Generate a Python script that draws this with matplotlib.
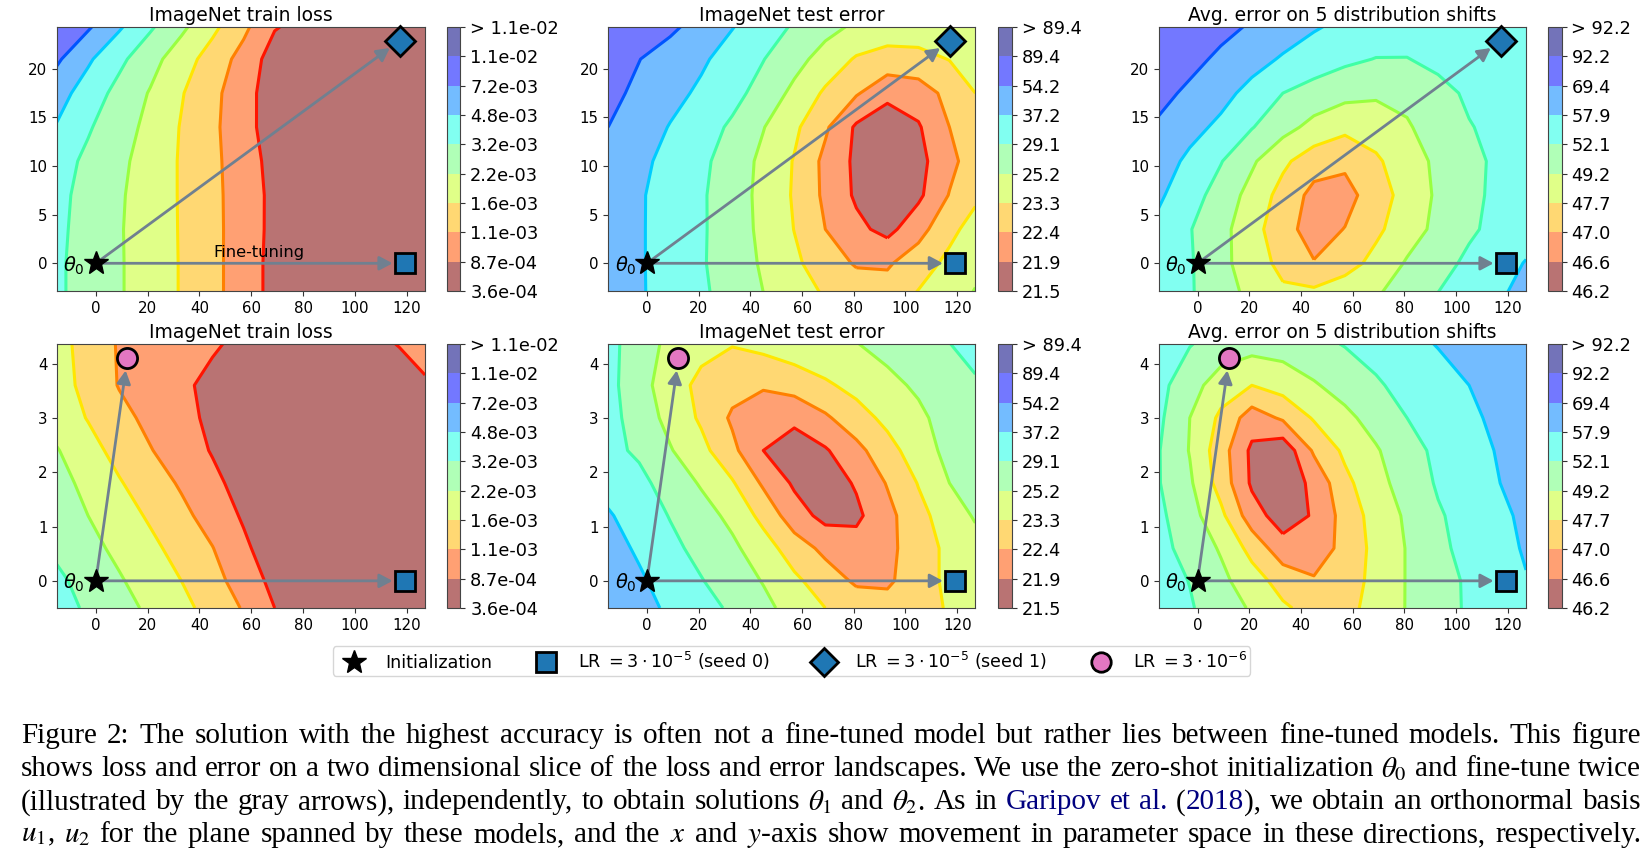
import numpy as np
import matplotlib
matplotlib.use("Agg")
import matplotlib.pyplot as plt
from matplotlib.lines import Line2D

W, H = 1646, 859

# Grid of the loss / error slices
x_grid = [-15, -3, 9, 21, 33, 45, 57, 69, 81, 93, 105, 117, 127]
y_grid_top = [-3, 0, 3.5, 7, 10.5, 14, 17.5, 21, 24.4]
y_grid_bottom = [-0.5, 0, 0.6, 1.2, 1.8, 2.4, 3, 3.6, 4.36]

# Values, on the colour bar's scale (one unit per band)
train_top = [
    [5.15, 4.63, 4.09, 3.52, 2.94, 2.27, 1.51, .69, .55, .4, .3, .25, .2],
    [5.15, 4.63, 4.09, 3.52, 2.94, 2.27, 1.51, .69, .55, .4, .3, .25, .2],
    [5.2, 4.65, 4.08, 3.51, 2.93, 2.26, 1.53, .73, .55, .4, .3, .25, .2],
    [5.25, 4.69, 4.12, 3.52, 2.92, 2.25, 1.52, .74, .55, .4, .3, .25, .2],
    [5.4, 4.8, 4.22, 3.58, 2.91, 2.23, 1.47, .66, .55, .4, .3, .25, .2],
    [5.93, 5.1, 4.43, 3.73, 2.94, 2.2, 1.37, .48, .45, .4, .3, .25, .2],
    [6.4, 5.54, 4.69, 3.93, 3.07, 2.27, 1.38, .47, .45, .4, .3, .25, .2],
    [7.15, 6.15, 5.23, 4.36, 3.46, 2.57, 1.64, .54, .5, .45, .3, .25, .2],
    [7.95, 7.15, 6.15, 5.15, 4.23, 3.25, 2.25, 1.08, .7, .5, .35, .3, .25],
]
test_top = [
    [6.55, 6.1, 5.63, 5.16, 4.6, 4.0, 3.44, 2.9, 2.55, 2.4, 3.05, 3.6, 4.05],
    [6.55, 6.1, 5.6, 5.1, 4.5, 3.88, 3.18, 2.5, 1.9, 1.88, 2.53, 3.25, 3.75],
    [6.55, 6.1, 5.6, 5.12, 4.49, 3.77, 2.98, 2.0, 1.25, .7, 1.64, 2.73, 3.4],
    [6.55, 6.1, 5.62, 5.12, 4.47, 3.73, 2.9, 1.8, .85, .3, .8, 2.05, 2.8],
    [6.7, 6.22, 5.72, 5.21, 4.55, 3.77, 2.94, 1.75, .8, .2, .7, 1.7, 2.55],
    [7.0, 6.5, 5.95, 5.42, 4.85, 4.04, 3.2, 2.15, .85, .3, .9, 2.0, 2.7],
    [7.25, 6.8, 6.3, 5.83, 5.3, 4.64, 3.75, 2.85, 2.1, 1.3, 1.5, 2.3, 3.0],
    [7.45, 7.02, 6.58, 6.15, 5.6, 5.03, 4.35, 3.6, 2.9, 2.6, 2.7, 3.03, 3.45],
    [7.95, 7.6, 7.2, 6.65, 6.05, 5.48, 4.9, 4.33, 3.85, 3.6, 3.55, 3.65, 3.8],
]
shift_top = [
    [5.65, 5.1, 4.4, 3.75, 3.15, 3.2, 3.55, 3.9, 4.4, 5.0, 5.45, 5.9, 6.25],
    [5.6, 5.1, 4.3, 3.45, 2.75, 2.05, 2.6, 3.3, 4.1, 4.65, 5.2, 5.65, 6.05],
    [5.75, 5.05, 4.3, 3.4, 2.35, 1.6, 2.03, 2.8, 3.55, 4.25, 4.85, 5.3, 5.6],
    [6.15, 5.4, 4.6, 3.65, 2.65, 1.7, 1.65, 2.5, 3.4, 4.15, 4.75, 5.25, 5.55],
    [6.45, 5.8, 5.05, 4.15, 3.2, 2.45, 2.2, 2.85, 3.55, 4.2, 4.75, 5.2, 5.5],
    [6.85, 6.3, 5.8, 5.05, 4.35, 3.7, 3.25, 3.45, 3.9, 4.45, 4.95, 5.25, 5.5],
    [7.3, 6.8, 6.3, 5.7, 5.0, 4.6, 4.3, 4.15, 4.25, 4.7, 5.15, 5.4, 5.6],
    [7.75, 7.3, 6.8, 6.35, 5.9, 5.55, 5.2, 4.97, 4.97, 5.25, 5.5, 5.65, 5.75],
    [7.95, 7.7, 7.3, 6.9, 6.5, 6.1, 5.8, 5.6, 5.5, 5.55, 5.65, 5.75, 5.85],
]
train_bottom = [
    [5.35, 4.87, 4.35, 3.82, 3.27, 2.65, 1.92, 1.0, .7, .5, .4, .35, .3],
    [5.2, 4.65, 4.1, 3.55, 3.0, 2.33, 1.57, .72, .6, .45, .35, .3, .3],
    [4.8, 4.3, 3.77, 3.23, 2.65, 2.03, 1.2, .4, .4, .4, .35, .3, .3],
    [4.55, 4.0, 3.44, 2.87, 2.25, 1.6, .88, .6, .5, .4, .35, .3, .35],
    [4.35, 3.73, 3.08, 2.48, 1.88, 1.25, .61, .55, .5, .4, .35, .35, .4],
    [4.06, 3.35, 2.68, 2.05, 1.5, .93, .7, .55, .5, .4, .4, .4, .5],
    [3.55, 2.95, 2.3, 1.75, 1.27, .81, .7, .6, .55, .5, .5, .55, .65],
    [3.45, 2.68, 1.95, 1.55, 1.15, .79, .75, .7, .65, .65, .65, .75, .9],
    [3.39, 2.58, 1.92, 1.65, 1.37, 1.1, .8, .8, .75, .75, .85, 1.02, 1.3],
]
test_bottom = [
    [6.75, 6.3, 5.85, 5.35, 4.85, 4.25, 3.63, 3.0, 2.55, 2.35, 2.6, 3.1, 3.45],
    [6.6, 6.15, 5.57, 5.05, 4.5, 3.95, 3.2, 2.5, 1.85, 1.85, 2.5, 3.25, 3.7],
    [6.4, 5.85, 5.25, 4.7, 4.2, 3.45, 2.5, 1.75, 1.4, 1.75, 2.5, 3.25, 3.65],
    [6.1, 5.55, 4.95, 4.4, 3.75, 2.7, 1.45, .7, .8, 1.7, 2.7, 3.5, 4.1],
    [5.65, 5.25, 4.6, 3.9, 3.1, 1.85, .85, .5, 1.1, 2.07, 3.05, 4.0, 4.55],
    [5.25, 4.85, 4.07, 3.3, 2.25, 1.0, .55, .9, 1.7, 2.65, 3.5, 4.3, 4.6],
    [5.35, 4.55, 3.7, 2.85, 1.85, 1.45, 1.2, 1.85, 2.6, 3.25, 3.8, 4.4, 4.85],
    [5.3, 4.4, 3.45, 2.75, 2.35, 2.1, 2.4, 2.85, 3.3, 3.75, 4.15, 4.55, 4.85],
    [5.3, 4.5, 3.75, 3.3, 3.05, 3.3, 3.6, 3.8, 3.97, 4.3, 4.65, 4.98, 5.4],
]
shift_bottom = [
    [5.55, 5.1, 4.45, 3.9, 3.15, 2.65, 2.7, 3.35, 4.05, 4.55, 5.15, 5.5, 5.8],
    [5.45, 4.97, 4.25, 3.45, 2.6, 2.1, 2.5, 3.3, 4.05, 4.6, 5.15, 5.6, 5.95],
    [5.3, 4.65, 3.9, 2.67, 1.4, 1.45, 2.3, 3.3, 4.05, 4.75, 5.35, 5.7, 6.1],
    [5.2, 4.4, 3.25, 1.45, .5, 1.1, 2.4, 3.4, 4.15, 4.9, 5.35, 5.8, 6.2],
    [5.05, 4.15, 2.6, .85, .35, 1.25, 2.75, 3.65, 4.45, 5.1, 5.55, 6.0, 6.5],
    [5.05, 3.95, 2.45, .8, .3, 2.15, 3.2, 3.9, 4.65, 5.2, 5.6, 6.1, 6.6],
    [5.2, 4.0, 2.8, 1.5, 2.15, 3.1, 3.75, 4.4, 5.0, 5.4, 5.8, 6.25, 6.6],
    [5.3, 4.4, 3.5, 3.0, 3.4, 3.9, 4.4, 4.88, 5.3, 5.6, 6.0, 6.35, 6.7],
    [5.6, 5.05, 4.6, 4.4, 4.45, 4.75, 5.05, 5.35, 5.7, 6.05, 6.35, 6.6, 6.85],
]

# Colour bar labels
train_ticks = ["3.6e-04", "8.7e-04", "1.1e-03", "1.6e-03", "2.2e-03", "3.2e-03",
               "4.8e-03", "7.2e-03", "1.1e-02", "> 1.1e-02"]
test_ticks = ["21.5", "21.9", "22.4", "23.3", "25.2", "29.1", "37.2", "54.2", "89.4", "> 89.4"]
shift_ticks = ["46.2", "46.6", "47.0", "47.7", "49.2", "52.1", "57.9", "69.4", "92.2", "> 92.2"]

titles = ["ImageNet train loss", "ImageNet test error", "Avg. error on 5 distribution shifts"]

# Points in the parameter plane
init_point = (0, 0)
seed0_point = (119.3, 0)
seed1_point = (117.3, 22.9)
lower_lr_point = (12.2, 4.1)

fill_colors = [(.5, 0, 0), (1, .32, 0), (1, .72, 0), (.78, 1, .15), (.44, 1, .49),
               (.1, 1, .9), (0, .52, 1), (0, .04, 1), (0, 0, .5)]
line_colors = [(1, .08, 0), (1, .5, 0), (1, .9, 0), (.6, 1, .25), (.25, 1, .65),
               (0, .8, 1), (0, .33, 1), (0, 0, .8)]
BAND_EDGES = np.arange(10)
ARROW = "#708090"
MARK = "#1f77b4"

fig = plt.figure(figsize=(W / 100, H / 100), dpi=100)


def box(l, t, r, b):
    return [l / W, 1 - b / H, (r - l) / W, (b - t) / H]


col_axes = [(57.2, 425), (608.4, 975.3), (1159, 1526)]
col_bars = [(447.2, 460.5), (997.7, 1011.8), (1548.3, 1561.7)]
rows = [(27, 291), (344, 608)]

data = [[train_top, test_top, shift_top], [train_bottom, test_bottom, shift_bottom]]
ticks = [train_ticks, test_ticks, shift_ticks]


def arrow(ax, target):
    ax.annotate("", xy=target, xytext=init_point, zorder=3,
                arrowprops=dict(arrowstyle="-|>,head_length=0.6,head_width=0.32", color=ARROW,
                                lw=2.0, shrinkA=0, shrinkB=9, mutation_scale=13))


for r, (top, bottom) in enumerate(rows):
    ys = y_grid_top if r == 0 else y_grid_bottom
    for c in range(3):
        ax = fig.add_axes(box(col_axes[c][0], top, col_axes[c][1], bottom))
        Z = np.array(data[r][c])
        cf = ax.contourf(x_grid, ys, Z, levels=BAND_EDGES, colors=fill_colors, alpha=0.55, zorder=0)
        ax.contour(x_grid, ys, Z, levels=BAND_EDGES[1:-1], colors=line_colors, linewidths=2.2, zorder=1)
        ax.set_xlim(-14.9, 127)
        ax.set_ylim((-2.85, 24.3) if r == 0 else (-0.5, 4.36))
        ax.set_xticks(range(0, 121, 20))
        ax.set_yticks(range(0, 21, 5) if r == 0 else range(0, 5))
        ax.tick_params(labelsize=10.8, length=3.5, width=0.8, pad=3.5, color="#333333")
        ax.set_title(titles[c], fontsize=13.5, pad=4)
        for s in ax.spines.values():
            s.set_linewidth(0.8)
            s.set_color("#444444")

        arrow(ax, seed0_point)
        if r == 0:
            arrow(ax, seed1_point)
            ax.plot(*seed1_point, marker="D", ms=15, mfc=MARK, mec="black", mew=2, zorder=4, clip_on=False)
        else:
            arrow(ax, lower_lr_point)
            ax.plot(*lower_lr_point, marker="o", ms=14.5, mfc="#e377c2", mec="black", mew=2, zorder=4)
        ax.plot(*seed0_point, marker="s", ms=14.5, mfc=MARK, mec="black", mew=2, zorder=4)
        ax.plot(*init_point, marker="*", ms=18, mfc="black", mec="black", zorder=5)
        ax.annotate(r"$\theta_0$", xy=init_point, xytext=(-15.5, -1.5), textcoords="offset points",
                    ha="center", va="center", fontsize=14, zorder=5)
        if r == 0 and c == 0:
            ax.text(62.8, 1.1, "Fine-tuning", ha="center", va="center", fontsize=11.7)

        cax = fig.add_axes(box(col_bars[c][0], top, col_bars[c][1], bottom))
        cb = fig.colorbar(cf, cax=cax)
        cb.set_ticks(BAND_EDGES)
        cb.set_ticklabels(ticks[c])
        cb.ax.tick_params(labelsize=12.8, length=3.5, width=0.8, pad=3.5, color="#333333")
        cb.outline.set_linewidth(0.8)
        cb.outline.set_edgecolor("#444444")

handles = [
    Line2D([], [], ls="", marker="*", ms=18, mfc="black", mec="black"),
    Line2D([], [], ls="", marker="s", ms=14, mfc=MARK, mec="black", mew=2),
    Line2D([], [], ls="", marker="D", ms=14.5, mfc=MARK, mec="black", mew=2),
    Line2D([], [], ls="", marker="o", ms=14, mfc="#e377c2", mec="black", mew=2),
]
labels = ["Initialization", r"LR $= 3\cdot 10^{-5}$ (seed 0)", r"LR $= 3\cdot 10^{-5}$ (seed 1)",
          r"LR $= 3\cdot 10^{-6}$"]
leg = fig.legend(handles, labels, loc="center", bbox_to_anchor=(791.5 / W, 1 - 661 / H), ncol=4,
                 fontsize=12.6, columnspacing=2.1, handletextpad=0.8, borderpad=0.2, handlelength=2)

# Caption, justified word by word as in the typeset page
BLUE = "#00007f"
caption_lines = [
    "Figure 2: The solution with the highest accuracy is often not a fine-tuned model but rather lies between fine-tuned models. This figure",
    r"shows loss and error on a two dimensional slice of the loss and error landscapes. We use the zero-shot initialization $\theta_0$ and fine-tune twice",
    r"(illustrated by the gray arrows), independently, to obtain solutions $\theta_1$ and $\theta_2$. As in Garipov et al. (2018), we obtain an orthonormal basis",
    r"$u_1$, $u_2$ for the plane spanned by these models, and the $x$ and $y$-axis show movement in parameter space in these directions, respectively.",
]
caption_y = [733, 766, 799, 832]
blue_words = {"Garipov", "et", "al."}
CAP_L, CAP_R = 21, 1641
renderer = fig.canvas.get_renderer()


def word_parts(word):
    if word == "(2018),":
        return [("(", "black"), ("2018", BLUE), ("),", "black")]
    return [(word, BLUE if word in blue_words else "black")]


for line, yy in zip(caption_lines, caption_y):
    items = []
    for word in line.split(" "):
        parts = []
        for txt, col in word_parts(word):
            t = fig.text(0, 1 - yy / H, txt, color=col, fontsize=21, family="Liberation Serif",
                         math_fontfamily="stix", va="center_baseline", ha="left")
            parts.append((t, t.get_window_extent(renderer).width))
        items.append(parts)
    total = sum(w for parts in items for _, w in parts)
    gap = (CAP_R - CAP_L - total) / (len(items) - 1)
    x = CAP_L
    for parts in items:
        for t, w in parts:
            t.set_x(x / W)
            x += w
        x += gap

fig.savefig("out.png", dpi=100)
